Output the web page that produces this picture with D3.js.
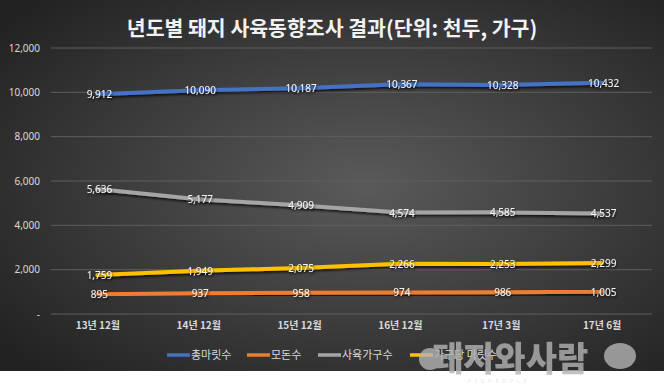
<!DOCTYPE html>
<html>
<head>
<meta charset="utf-8">
<script src="https://cdn.jsdelivr.net/npm/d3@7"></script>
<style>
  body { margin: 0; background: #fff; }
  svg { display: block; }
</style>
</head>
<body>
<svg width="664" height="385"></svg>
<script>
// canvas size
const width = 664
const height = 385

// data
const categories = ["13년 12월", "14년 12월", "15년 12월", "16년 12월", "17년 3월", "17년 6월"];
const seriesNames = ["총마릿수", "모돈수", "사육가구수", "가구당 마릿수"];
const totalHeads = [9912, 10090, 10187, 10367, 10328, 10432];
const sows = [895, 937, 958, 974, 986, 1005];
const farms = [5636, 5177, 4909, 4574, 4585, 4537];
const headsPerFarm = [1759, 1949, 2075, 2266, 2253, 2299];
const yTicks = [0, 2000, 4000, 6000, 8000, 10000, 12000];
const colors = ["#4472C4", "#ED7D31", "#A5A5A5", "#FFC000"];

const seriesValues = [totalHeads, sows, farms, headsPerFarm];

var svg = d3.select("svg")

// background gradient
var defs = svg.append("defs")
var grad = defs.append("radialGradient")
  .attr("id", "bg")
  .attr("cx", "55%").attr("cy", "50%").attr("r", "70%")
grad.append("stop").attr("offset", "0%").attr("stop-color", "#5a5a5a")
grad.append("stop").attr("offset", "100%").attr("stop-color", "#222")

var shadow = defs.append("filter").attr("id", "sh")
  .attr("x", "-10%").attr("y", "-50%").attr("width", "120%").attr("height", "200%")
shadow.append("feDropShadow")
  .attr("dx", 1).attr("dy", 2).attr("stdDeviation", 1.2)
  .attr("flood-color", "#000").attr("flood-opacity", 0.7)

svg.append("rect")
  .attr("width", width).attr("height", 371)
  .attr("fill", "url(#bg)")

// title
svg.append("text")
  .attr("x", 332).attr("y", 36)
  .attr("text-anchor", "middle")
  .attr("font-family", "'Noto Sans CJK KR', sans-serif")
  .attr("font-size", "20.5px")
  .attr("font-weight", "bold")
  .attr("fill", "#f2f2f2")
  .text("년도별 돼지 사육동향조사 결과(단위: 천두, 가구)")

// scales
var x = d3.scalePoint()
  .domain(categories)
  .range([47, 652])
  .padding(0.5)

var y = d3.scaleLinear()
  .domain([0, 12000])
  .range([314, 48])

// grid + y axis labels
var yAxis = d3.axisLeft(y)
  .tickValues(yTicks)
  .tickSize(0)
  .tickPadding(0)
  .tickFormat(d => d === 0 ? "-" : d3.format(",")(d))

var gy = svg.append("g")
  .attr("transform", "translate(40,0)")
  .call(yAxis)
gy.select(".domain").remove()
gy.selectAll("text")
  .attr("fill", "#d9d9d9")
  .attr("font-family", "'Noto Sans', sans-serif")
  .attr("font-size", "10px")

svg.append("g").selectAll("line")
  .data(yTicks)
  .enter().append("line")
  .attr("x1", 51).attr("x2", 652)
  .attr("y1", d => y(d)).attr("y2", d => y(d))
  .attr("stroke", "#5e5e5e")
  .attr("stroke-width", 1)

// x axis labels
var xAxis = d3.axisBottom(x).tickSize(0).tickPadding(0)
var gx = svg.append("g")
  .attr("transform", "translate(0,322)")
  .call(xAxis)
gx.select(".domain").remove()
gx.selectAll("text")
  .attr("fill", "#d9d9d9")
  .attr("font-family", "'Noto Sans CJK KR', sans-serif")
  .attr("font-weight", "bold")
  .attr("font-size", "10px")

// lines
var line = d3.line()
  .x((d, i) => x(categories[i]))
  .y(d => y(d))

seriesValues.forEach(function(vals, s){
  svg.append("path")
    .datum(vals)
    .attr("d", line)
    .attr("fill", "none")
    .attr("stroke", colors[s])
    .attr("stroke-width", 4)
    .attr("stroke-linecap", "round")
    .attr("filter", "url(#sh)")
})

// data labels
seriesValues.forEach(function(vals, s){
  svg.append("g").selectAll("text")
    .data(vals)
    .enter().append("text")
    .attr("x", (d, i) => x(categories[i]) + 2)
    .attr("y", d => y(d) + 4)
    .attr("text-anchor", "middle")
    .attr("font-family", "'Noto Sans', sans-serif")
    .attr("font-size", "10px")
    .attr("fill", "#f2f2f2")
    .attr("filter", "url(#sh)")
    .text(d => d3.format(",")(d))
})

// legend
var legendX = [167, 247, 318, 410]
var lg = svg.append("g").selectAll("g")
  .data(seriesNames)
  .enter().append("g")
  .attr("transform", (d, i) => "translate(" + legendX[i] + ",355)")
lg.append("line")
  .attr("x1", 0).attr("x2", 23)
  .attr("stroke", (d, i) => colors[i])
  .attr("stroke-width", 3.5)
lg.append("text")
  .attr("x", 24).attr("y", 4)
  .attr("font-family", "'Noto Sans CJK KR', sans-serif")
  .attr("font-size", "11px")
  .attr("fill", "#d9d9d9")
  .text(d => d)

// watermark (logo on top of the legend, as in the source)
var wm = svg.append("g").attr("opacity", 0.8)
wm.append("circle").attr("cx", 430).attr("cy", 359).attr("r", 11).attr("fill", "#b3b3b3")
wm.append("text")
  .attr("x", 510).attr("y", 371)
  .attr("text-anchor", "middle")
  .attr("font-family", "'Noto Sans CJK KR', sans-serif")
  .attr("font-size", "34px")
  .attr("font-weight", "900")
  .attr("fill", "#b3b3b3")
  .text("돼지와사람")
wm.append("ellipse").attr("cx", 620).attr("cy", 356).attr("rx", 16).attr("ry", 13).attr("fill", "#b3b3b3")
wm.append("text")
  .attr("x", 468).attr("y", 383)
  .attr("font-family", "'Noto Sans', sans-serif")
  .attr("font-size", "5px")
  .attr("letter-spacing", "4px")
  .attr("fill", "#e0e0e0")
  .text("PIGPEOPLE")
</script>
</body>
</html>
